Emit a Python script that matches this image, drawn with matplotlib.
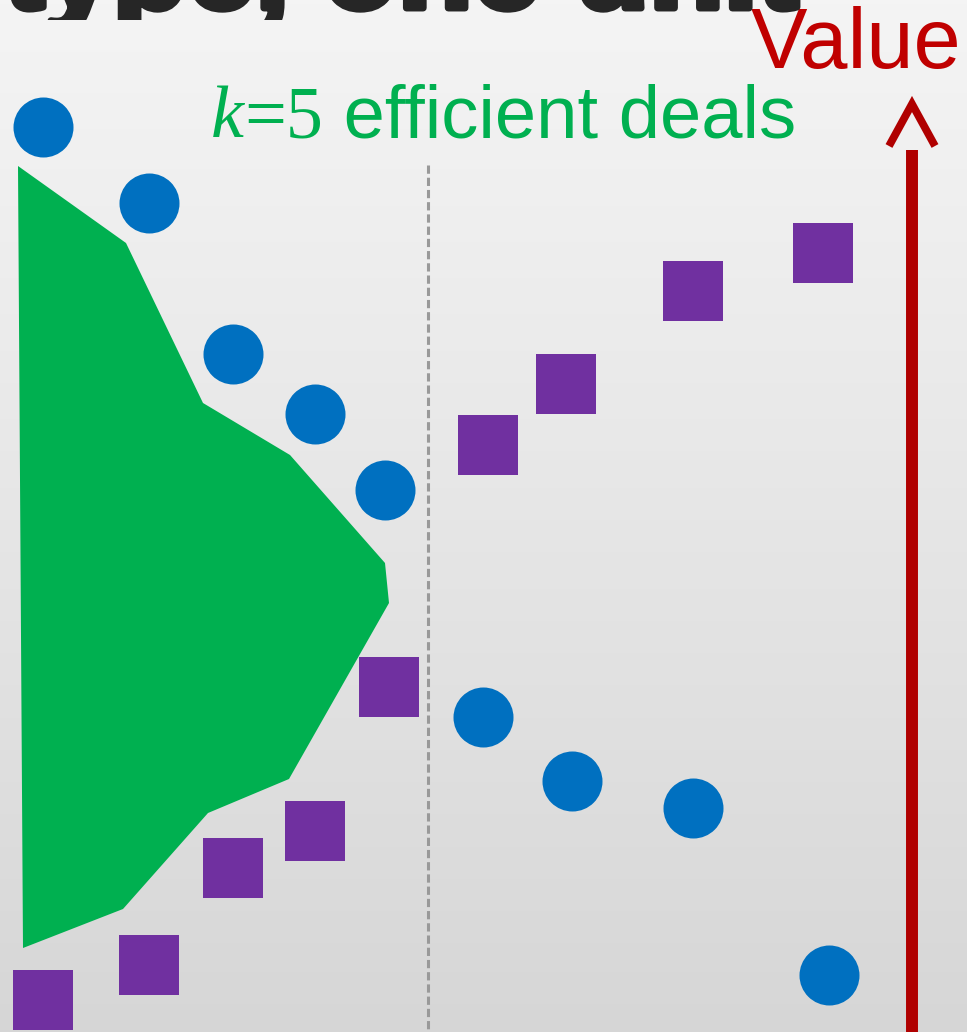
import matplotlib
matplotlib.use("Agg")
import matplotlib.pyplot as plt
import matplotlib.patheffects as pe
import numpy as np

plt.rcParams['font.family'] = ['Liberation Sans', 'DejaVu Sans']

W, H = 967, 1032

# deals of one type (circles) and of the other type (squares), screen units, y grows downwards
circle_x = [43, 149, 233, 315, 385, 483, 572, 693, 829]
circle_y = [127, 203, 354, 414, 490, 717, 781, 808, 975]
square_x = [43, 149, 233, 315, 389, 488, 566, 693, 823]
square_y = [1000, 965, 868, 831, 687, 445, 384, 291, 253]

# hull of the k=5 efficient deals
hull_x = [18, 126, 203, 290, 385, 389, 289, 208, 123, 23]
hull_y = [166, 243, 403, 455, 563, 603, 779, 813, 909, 948]

split_x = 428
split_top = 165

title_text = "type, one unit"
# label pieces: (text, family, style)
hull_label = [("k", "Liberation Serif", "italic"),
              ("=5", "Liberation Serif", "normal"),
              (" efficient deals", "Liberation Sans", "normal")]
axis_label = "Value"

blue = '#0070C0'
purple = '#7030A0'
green = '#00B050'
dark_red = '#B00000'

fig = plt.figure(figsize=(W / 100, H / 100), dpi=100)
ax = fig.add_axes([0, 0, 1, 1])
ax.set_xlim(0, W)
ax.set_ylim(H, 0)
ax.axis('off')

# light paper-like backdrop, darker towards the bottom
grad = np.linspace(0, 1, 256)[:, None]
top_col = np.array([0.957, 0.957, 0.957])
bot_col = np.array([0.84, 0.84, 0.84])
bg = top_col + (bot_col - top_col) * grad[..., None] ** 1.1
bg = np.repeat(bg, 2, axis=1)
ax.imshow(bg, extent=(0, W, H, 0), aspect='auto', zorder=0)

ax.fill(hull_x, hull_y, color=green, lw=0, zorder=2)

ax.plot([split_x, split_x], [split_top, H], color='#999999', lw=2.2,
        dashes=(2.7, 1.3), zorder=1)

ax.scatter(circle_x, circle_y, s=43.2 ** 2, marker='o', color=blue, lw=0, zorder=3)
ax.scatter(square_x, square_y, s=43.2 ** 2, marker='s', color=purple, lw=0, zorder=3)

# value axis arrow
ax.plot([912, 912], [150, H], color=dark_red, lw=8.6, solid_capstyle='butt', zorder=3)
ax.plot([889, 912, 935], [146, 104, 146], color=dark_red, lw=5.6,
        solid_joinstyle='miter', solid_capstyle='butt', zorder=3)

ax.text(751, 68, axis_label, color='#C00000', fontsize=61, va='baseline', ha='left')

# label made of runs in different faces, placed one after another
renderer = fig.canvas.get_renderer()
x = 211
for txt, fam, sty in hull_label:
    t = ax.text(x, 137, txt, color=green, fontsize=53.5, family=fam, style=sty,
                va='baseline', ha='left')
    x += t.get_window_extent(renderer).width

# heading sitting above the panel, only its lower edge shows
tax = fig.add_axes([0, 1 - 20 / H, 1, 20 / H])
tax.set_xlim(0, W)
tax.set_ylim(20, 0)
tax.axis('off')
tax.text(4, 8, title_text, color='#262626', fontsize=88, fontweight='bold',
         va='baseline', ha='left', clip_on=True,
         path_effects=[pe.withStroke(linewidth=5, foreground='#262626')])

fig.savefig('out.png', dpi=100)
